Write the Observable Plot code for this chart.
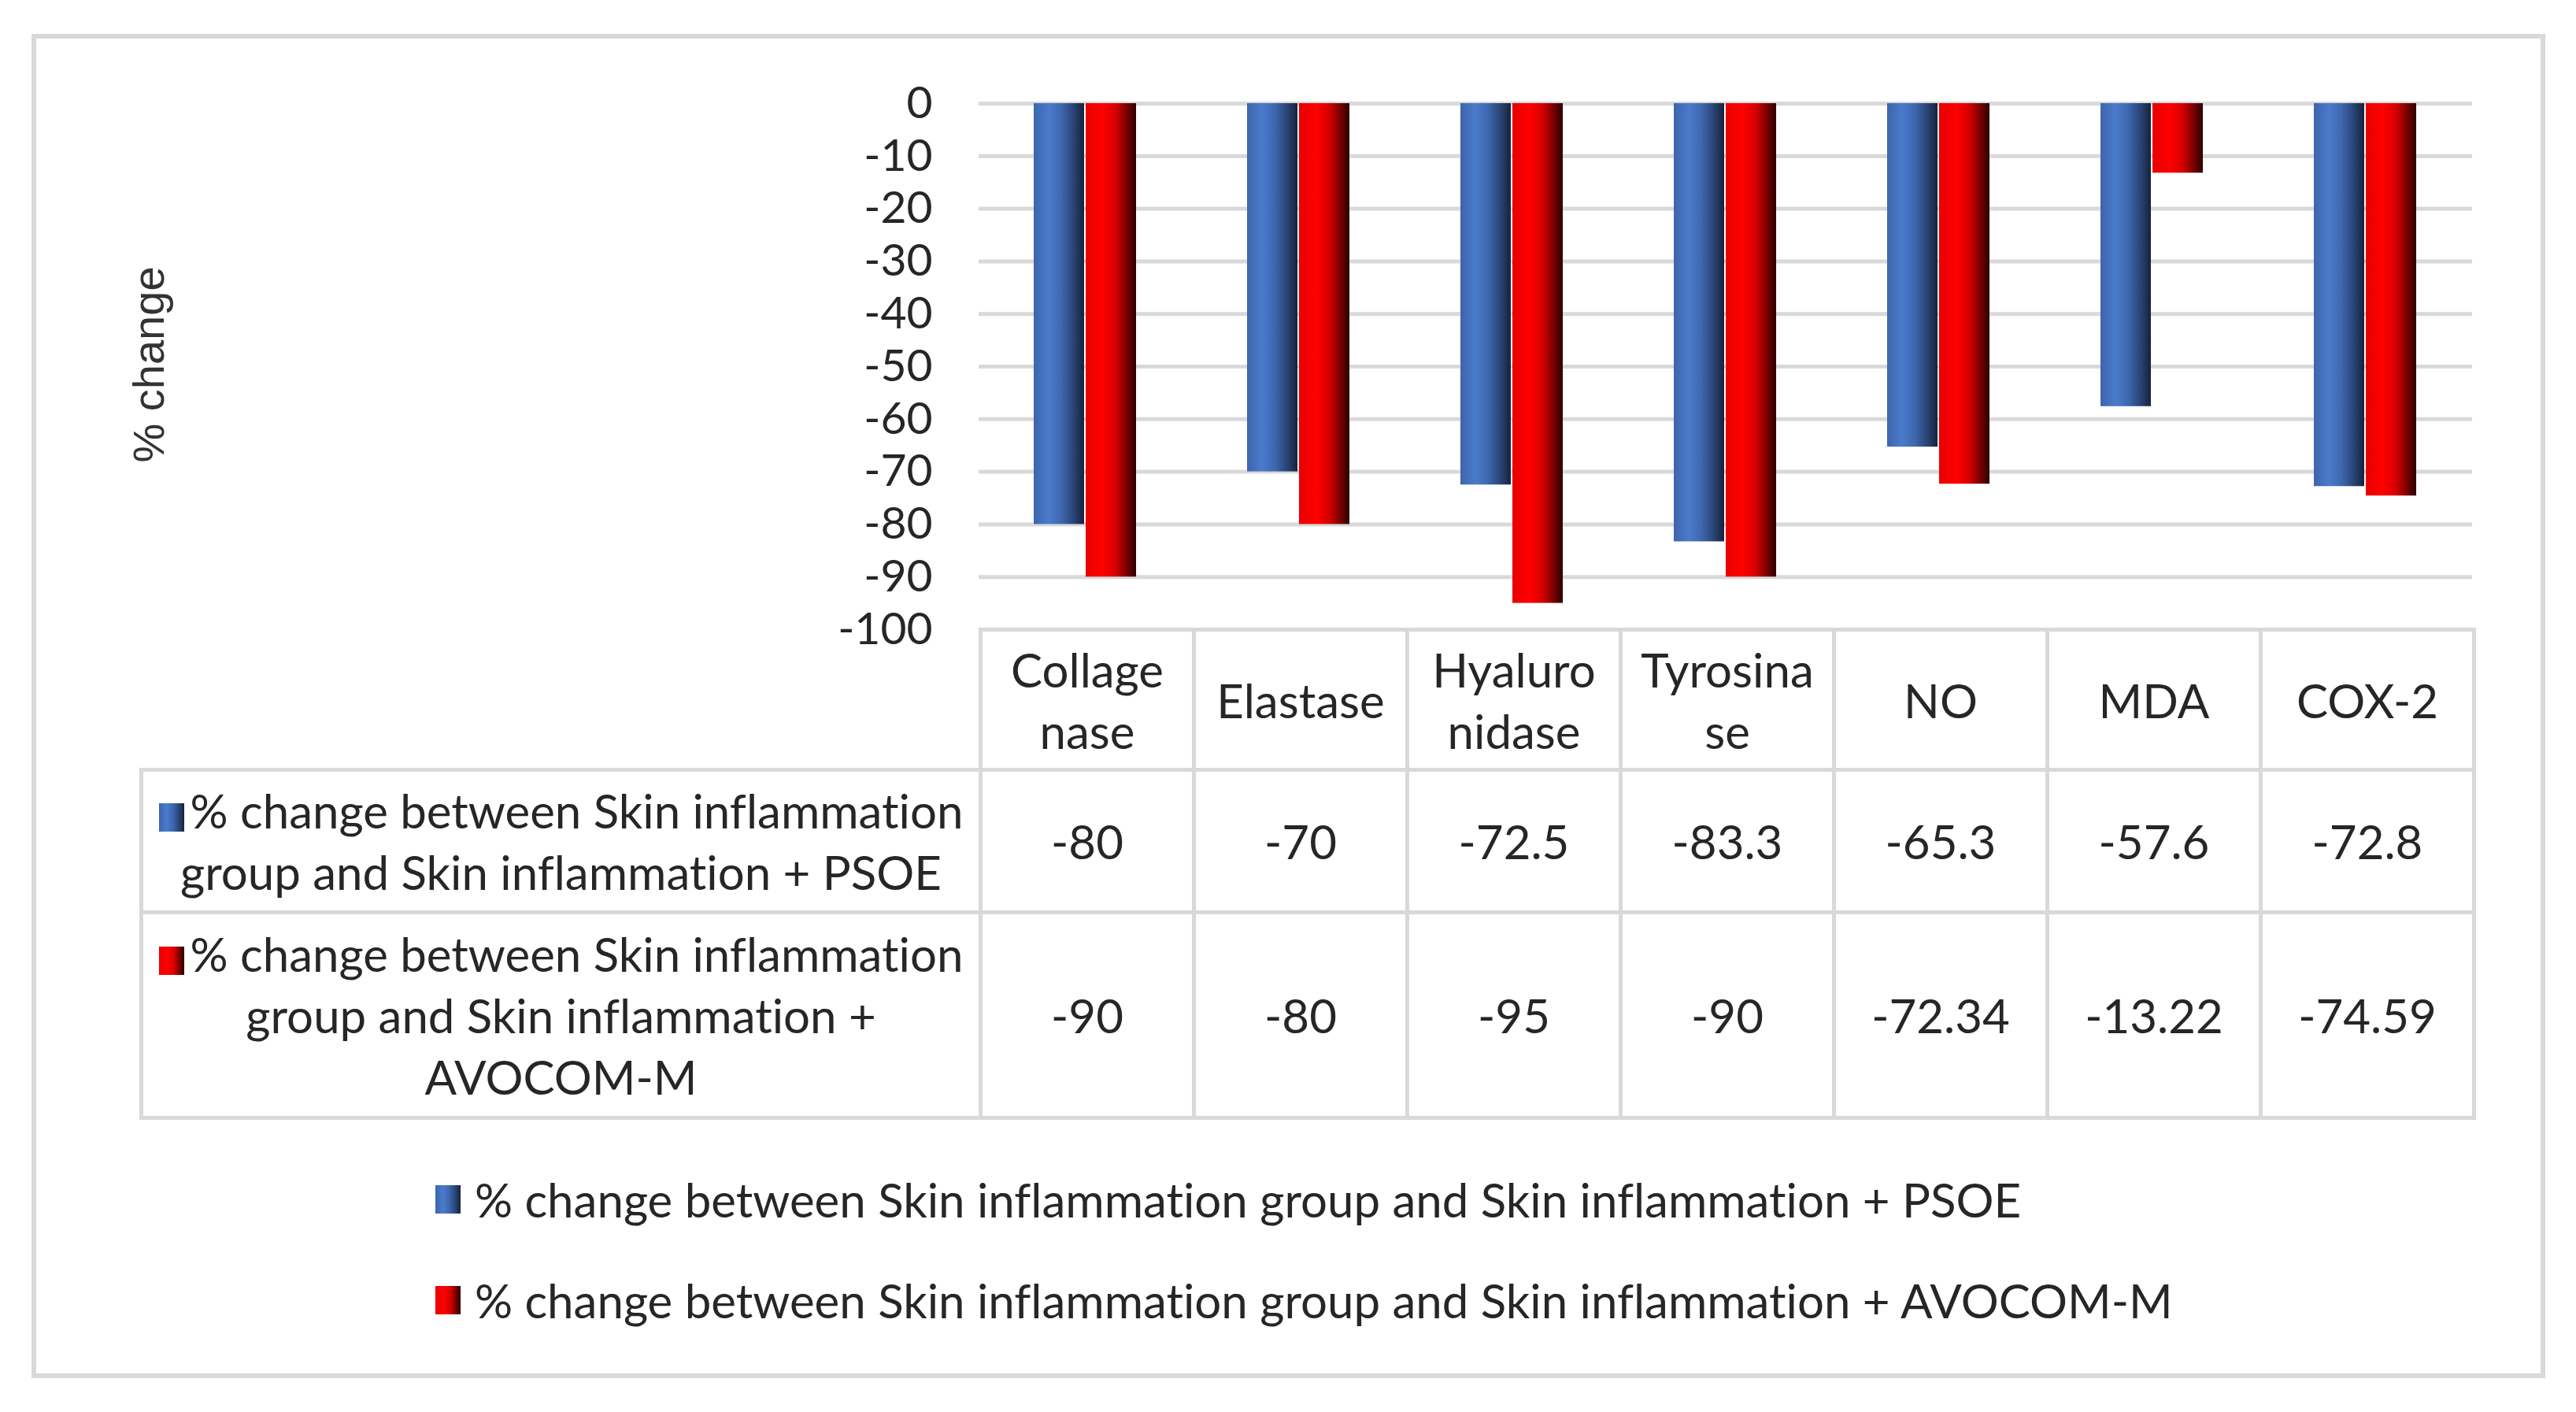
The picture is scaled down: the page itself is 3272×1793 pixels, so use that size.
<!DOCTYPE html>
<html>
<head>
<meta charset="utf-8">
<script src="https://cdn.jsdelivr.net/npm/d3@7"></script>
<script src="https://cdn.jsdelivr.net/npm/@observablehq/plot@0.6"></script>
<style>
  html, body { margin: 0; padding: 0; background: #fff; }
  #page { position: relative; width: 3272px; height: 1793px; overflow: hidden;
          font-family: Lato, "Open Sans", sans-serif; color: #262626; background: #fff;
          font-variant-ligatures: none; }
  #frame { position: absolute; left: 40px; top: 43px; width: 3193px; height: 1707px;
           box-sizing: border-box; border: 6px solid #d9d9d9; }
  #chart svg { position: absolute; left: 0; top: 0; font-variant-ligatures: none; }
  #ylabel { position: absolute; left: 188px; top: 463px; transform: translate(-50%, -50%) rotate(-90deg);
            white-space: nowrap; font-family: "Liberation Sans", Arial, sans-serif; font-size: 56px; color: #333; }
  #datatable { position: absolute; border-collapse: collapse; table-layout: fixed; font-size: 60px; }
  #datatable td { border: 5px solid #d9d9d9; text-align: center; vertical-align: middle;
                  line-height: 78px; padding: 0; white-space: nowrap; color: #262626; }
  #datatable td.blank { border-top: hidden; border-left: hidden; }
  .sw { display: inline-block; width: 32px; height: 36px; vertical-align: -4px; margin-right: 8px; }
  #legend { position: absolute; left: 553px; top: 1483px; font-size: 60px; }
  .lg { display: flex; align-items: center; height: 80px; margin-bottom: 48px; white-space: nowrap; }
  .lg .sw { margin-right: 18px; vertical-align: 0; }
</style>
</head>
<body>
<div id="page">
  <div id="frame"></div>
  <div id="chart"></div>
  <div id="ylabel"></div>
  <table id="datatable"></table>
  <div id="legend"></div>
</div>
<script>
// ---------- data ----------
const categories = ["Collagenase", "Elastase", "Hyaluronidase", "Tyrosinase", "NO", "MDA", "COX-2"];
const categoryLabels = [["Collage", "nase"], ["Elastase"], ["Hyaluro", "nidase"], ["Tyrosina", "se"], ["NO"], ["MDA"], ["COX-2"]];
const seriesNames = [
  "% change between Skin inflammation group and Skin inflammation + PSOE",
  "% change between Skin inflammation group and Skin inflammation + AVOCOM-M"
];
const seriesRowLines = [
  ["% change between Skin inflammation", "group and Skin inflammation + PSOE"],
  ["% change between Skin inflammation", "group and Skin inflammation +", "AVOCOM-M"]
];
const psoeValues = [-80, -70, -72.5, -83.3, -65.3, -57.6, -72.8];
const avocomValues = [-90, -80, -95, -90, -72.34, -13.22, -74.59];
const yTicks = [0, -10, -20, -30, -40, -50, -60, -70, -80, -90, -100];
const yLabel = "% change";

// ---------- styling ----------
const blueStops = [[0, "#3d65ab"], [0.3, "#4a7bcb"], [0.55, "#3e67ae"], [0.78, "#2a4678"], [1, "#16223c"]];
const redStops = [[0, "#e80000"], [0.35, "#ff0000"], [0.6, "#d40000"], [0.8, "#800000"], [1, "#2a0000"]];
const seriesGrad = ["gradBlue", "gradRed"];
const seriesStops = [blueStops, redStops];

const data = categories.flatMap((c, i) => [
  {category: c, series: seriesNames[0], value: psoeValues[i]},
  {category: c, series: seriesNames[1], value: avocomValues[i]}
]);

const W = 3272, H = 840, ML = 1242, MR = 131, MT = 131, PLOT_BOTTOM = 799;

const chart = Plot.plot({
  width: W, height: H,
  marginLeft: ML, marginRight: MR, marginTop: MT, marginBottom: H - PLOT_BOTTOM,
  style: {fontFamily: "Lato, 'Open Sans', sans-serif", fontSize: "57px", color: "#262626", background: "transparent", overflow: "visible"},
  fx: {domain: categories, padding: 0, axis: null},
  x: {domain: seriesNames, paddingInner: 0.03, paddingOuter: 1.04, axis: null},
  y: {domain: [-100, 0]},
  marks: [
    Plot.gridY(yTicks, {stroke: "#d9d9d9", strokeOpacity: 1, strokeWidth: 5}),
    Plot.axisY(yTicks, {tickSize: 0, tickPadding: 59, label: null, tickFormat: d => String(d), fill: "#262626"}),
    ...seriesNames.map((s, k) => Plot.barY(data.filter(d => d.series === s), {
      fx: "category", x: "series", y: "value", fill: `url(#${seriesGrad[k]})`
    }))
  ]
});

// gradient defs
const ns = "http://www.w3.org/2000/svg";
const defs = document.createElementNS(ns, "defs");
seriesGrad.forEach((id, k) => {
  const g = document.createElementNS(ns, "linearGradient");
  g.setAttribute("id", id);
  g.setAttribute("x1", "0"); g.setAttribute("x2", "1"); g.setAttribute("y1", "0"); g.setAttribute("y2", "0");
  for (const [o, c] of seriesStops[k]) {
    const st = document.createElementNS(ns, "stop");
    st.setAttribute("offset", o); st.setAttribute("stop-color", c);
    g.appendChild(st);
  }
  defs.appendChild(g);
});
chart.insertBefore(defs, chart.firstChild);
document.getElementById("chart").appendChild(chart);

document.getElementById("ylabel").textContent = yLabel;

// ---------- data table aligned on the fx scale ----------
const fx = chart.scale("fx");
const bw = fx.bandwidth;
const firstColLeft = 177;
const firstColWidth = fx.apply(categories[0]) - firstColLeft;
const table = document.getElementById("datatable");
table.style.left = firstColLeft + "px";
table.style.top = (PLOT_BOTTOM - 2) + "px";
table.style.width = (firstColWidth + bw * categories.length) + "px";
const swatchCss = k => `linear-gradient(to right, ${seriesStops[k].map(([o, c]) => c + " " + (o * 100) + "%").join(", ")})`;

let html = `<colgroup><col style="width:${firstColWidth}px">` + categories.map(() => `<col style="width:${bw}px">`).join("") + `</colgroup>`;
html += `<tr style="height:178px"><td class="blank"></td>` + categoryLabels.map(l => `<td>${l.join("<br>")}</td>`).join("") + `</tr>`;
const rowValues = [psoeValues, avocomValues];
const rowHeights = [181, 261];
seriesNames.forEach((s, k) => {
  const lines = seriesRowLines[k].slice();
  lines[0] = `<span class="sw" style="background:${swatchCss(k)}"></span>` + lines[0];
  html += `<tr style="height:${rowHeights[k]}px"><td>${lines.join("<br>")}</td>` +
    rowValues[k].map(v => `<td>${String(v)}</td>`).join("") + `</tr>`;
});
table.innerHTML = html;

// ---------- legend ----------
document.getElementById("legend").innerHTML = seriesNames.map((s, k) =>
  `<div class="lg"><span class="sw" style="background:${swatchCss(k)}"></span><span>${s}</span></div>`).join("");
</script>
</body>
</html>
